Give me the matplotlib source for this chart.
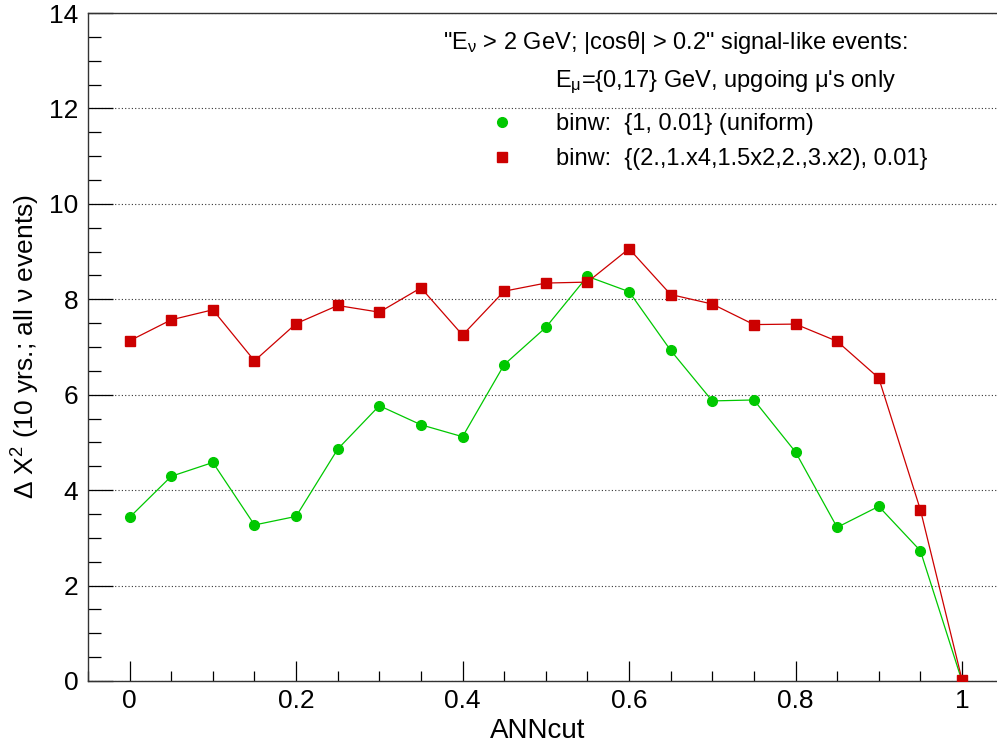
import numpy as np
import matplotlib
matplotlib.use('Agg')
import matplotlib.pyplot as plt
from matplotlib.ticker import MultipleLocator,FormatStrFormatter
from matplotlib.lines import Line2D

#===========================================
# data
ann_cut=[0.0,0.05,0.1,0.15,0.2,0.25,0.3,0.35,0.4,0.45,0.5,
         0.55,0.6,0.65,0.7,0.75,0.8,0.85,0.9,0.95,1.0]
# binw {1, 0.01} (uniform)
chi2_uniform=[3.43,4.29,4.58,3.27,3.45,4.86,5.77,5.37,5.12,6.63,7.41,
              8.48,8.16,6.93,5.87,5.89,4.80,3.22,3.66,2.73,0.0]
# binw {(2.,1.x4,1.5x2,2.,3.x2), 0.01}
chi2_variable=[7.13,7.57,7.78,6.71,7.49,7.87,7.73,8.24,7.25,8.17,8.34,
               8.36,9.06,8.10,7.90,7.47,7.48,7.12,6.35,3.59,0.03]

label_uniform='binw:  {1, 0.01} (uniform)'
label_variable='binw:  {(2.,1.x4,1.5x2,2.,3.x2), 0.01}'
header1='"E$_{\\mathrm{\\nu}}$ > 2 GeV; |cos\u03b8| > 0.2" signal-like events:'
header2='E$_{\\mathrm{\\mu}}$={0,17} GeV, upgoing \u03bc\'s only'

green='#00c800'
red='#cc0000'

plt.rcParams['font.family']=['Liberation Sans','DejaVu Sans']
plt.rcParams['mathtext.fontset']='custom'
plt.rcParams['mathtext.rm']='Liberation Sans'
plt.rcParams['mathtext.it']='Liberation Sans:italic'

W,H=997,745
fig=plt.figure(figsize=(W/100,H/100),dpi=100)
# frame in pixels: left 88, bottom 681, top 13, right falls off the image
ax=fig.add_axes([88/W,(H-681)/H,(1003.6-88)/W,668/H])

ax.plot(ann_cut,chi2_uniform,color=green,lw=0.9,marker='o',ms=7,
        mec=green,mfc=green,zorder=3)
ax.plot(ann_cut,chi2_variable,color=red,lw=0.9,marker='s',ms=7.5,
        mec=red,mfc=red,zorder=4)

ax.set_xlim(-0.05,1.05)
ax.set_ylim(0,14)
ax.xaxis.set_major_locator(MultipleLocator(0.2))
ax.xaxis.set_minor_locator(MultipleLocator(0.05))
ax.xaxis.set_major_formatter(FormatStrFormatter('%g'))
ax.yaxis.set_major_locator(MultipleLocator(2))
ax.yaxis.set_minor_locator(MultipleLocator(0.5))

ax.tick_params(axis='x',which='major',direction='in',length=14.5,width=0.9,labelsize=19,pad=6)
ax.tick_params(axis='x',which='minor',direction='in',length=7.2,width=0.9)
ax.tick_params(axis='y',which='major',direction='in',length=18,width=0.9,labelsize=19,pad=7)
ax.tick_params(axis='y',which='minor',direction='in',length=9,width=0.9)

#dotted grid on the y majors only
ax.grid(axis='y',which='major',color='#333333',linestyle=(0,(1,2)),lw=0.8)
ax.set_axisbelow(True)

for s in ['left','bottom','top']:
    ax.spines[s].set_color('#333333')
    ax.spines[s].set_linewidth(1.0)
ax.spines['right'].set_visible(False)

ax.set_xlabel('ANNcut',fontsize=20)
ax.xaxis.set_label_coords((538-88)/915.6,(681-718)/668)
ax.set_ylabel('\u0394 X$^{2}$ (10 yrs.; all \u03bd events)',fontsize=19)
ax.yaxis.set_label_coords((42-88)/915.6,0.5)

# legend header lines
fig.text(443/W,(H-49)/H,header1,fontsize=17,ha='left',va='baseline')
fig.text(555/W,(H-87)/H,header2,fontsize=17,ha='left',va='baseline')

# legend keys are markers only, like the root legend
handles=[Line2D([],[],ls='none',marker='o',ms=7,color=green),
         Line2D([],[],ls='none',marker='s',ms=7.5,color=red)]
fig.legend(handles,[label_uniform,label_variable],loc='upper left',
           bbox_to_anchor=(490/W,(H-113)/H),frameon=False,
           fontsize=17,handlelength=1.0,handletextpad=1.8,borderpad=0,
           borderaxespad=0,labelspacing=0.55,numpoints=1)

fig.savefig('out.png',dpi=100)
